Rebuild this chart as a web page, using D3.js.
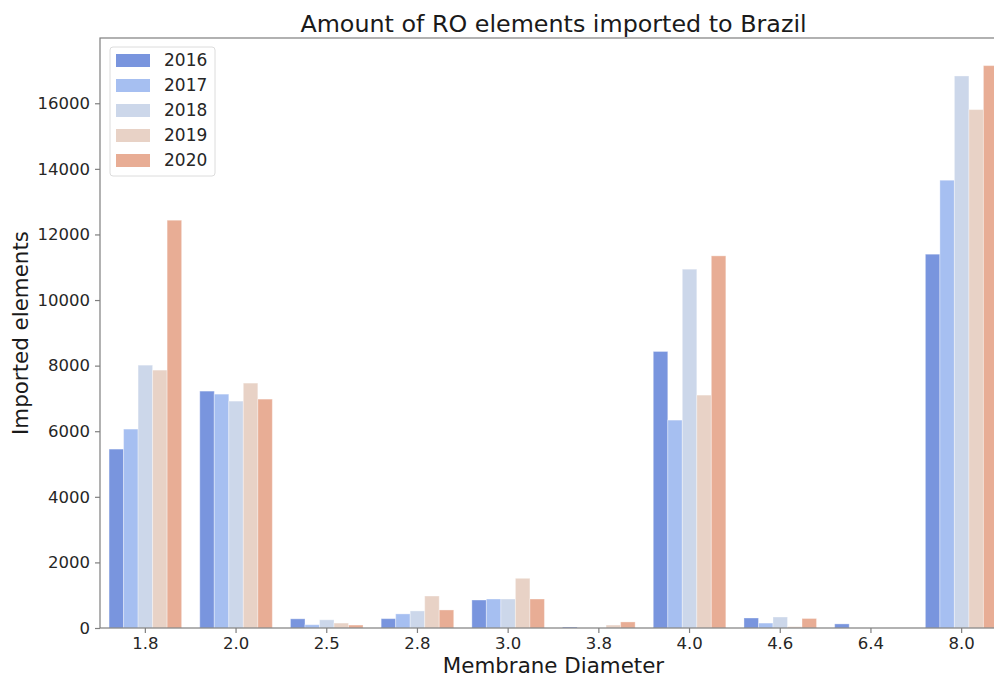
<!DOCTYPE html>
<html>
<head>
<meta charset="utf-8">
<script src="https://cdn.jsdelivr.net/npm/d3@7"></script>
<style>
  body { margin: 0; background: #fff; }
  text { font-family: "DejaVu Sans", sans-serif; }
</style>
</head>
<body>
<div id="chart"></div>
<script>
// data
var diameters = ["1.8", "2.0", "2.5", "2.8", "3.0", "3.8", "4.0", "4.6", "6.4", "8.0"];
var years = ["2016", "2017", "2018", "2019", "2020"];
var v2016 = [5455, 7223, 280, 285, 853, 30, 8432, 305, 125, 11398];
var v2017 = [6065, 7131, 100, 430, 884, 0, 6339, 150, 0, 13653];
var v2018 = [8015, 6918, 250, 520, 884, 0, 10941, 335, 0, 16832];
var v2019 = [7863, 7467, 150, 975, 1515, 90, 7101, 40, 0, 15807];
var v2020 = [12434, 6979, 90, 550, 884, 185, 11347, 290, 0, 17148];
var yTicks = [0, 2000, 4000, 6000, 8000, 10000, 12000, 14000, 16000];
var colors = ["#7995de", "#a6bff1", "#ccd7ea", "#e8d2c6", "#e8ad95"];

var series = [v2016, v2017, v2018, v2019, v2020];

var width = 994, height = 675;
// note: "top" is window.top, so use other names
var axLeft = 100, axRight = 1007, axTop = 38, axBottom = 628;

var svg = d3.select("#chart").append("svg")
  .attr("width", width)
  .attr("height", height);

var x = d3.scaleBand()
  .domain(diameters)
  .range([axLeft, axRight])
  .paddingInner(0.2)
  .paddingOuter(0.1);

var xInner = d3.scaleBand()
  .domain(years)
  .range([0, x.bandwidth()]);

var y = d3.scaleLinear()
  .domain([0, 17990])
  .range([axBottom, axTop]);

var color = d3.scaleOrdinal().domain(years).range(colors);

// bars
var groups = svg.selectAll("g.cat")
  .data(diameters)
  .enter()
  .append("g")
  .attr("class", "cat")
  .attr("transform", function(d) { return "translate(" + x(d) + ",0)"; });

groups.selectAll("rect")
  .data(function(d, i) { return years.map(function(yr, j) { return { year: yr, value: series[j][i] }; }); })
  .enter()
  .append("rect")
  .attr("x", function(d) { return xInner(d.year); })
  .attr("width", xInner.bandwidth())
  .attr("y", function(d) { return y(d.value); })
  .attr("height", function(d) { return axBottom - y(d.value); })
  .attr("fill", function(d) { return color(d.year); })
  .attr("stroke", "#ffffff")
  .attr("stroke-opacity", 0.35)
  .attr("stroke-width", 1);

// frame
svg.append("rect")
  .attr("x", axLeft)
  .attr("y", axTop)
  .attr("width", axRight - axLeft)
  .attr("height", axBottom - axTop)
  .attr("fill", "none")
  .attr("stroke", "#7f7f7f")
  .attr("stroke-width", 1.2);

// axes
var xAxis = svg.append("g")
  .attr("transform", "translate(0," + axBottom + ")")
  .call(d3.axisBottom(x).tickSize(5).tickPadding(4));
var yAxis = svg.append("g")
  .attr("transform", "translate(" + axLeft + ",0)")
  .call(d3.axisLeft(y).tickValues(yTicks).tickFormat(d3.format("d")).tickSize(5).tickPadding(5));

[xAxis, yAxis].forEach(function(a) {
  a.select(".domain").remove();
  a.selectAll(".tick line").attr("stroke", "#7f7f7f").attr("stroke-width", 1.2);
  a.selectAll(".tick text")
    .attr("fill", "#262626")
    .style("font-size", "16.5px")
    .style("font-family", "DejaVu Sans");
});

// title and axis labels
svg.append("text")
  .attr("x", (axLeft + axRight) / 2)
  .attr("y", 32)
  .attr("text-anchor", "middle")
  .attr("fill", "#1a1a1a")
  .style("font-size", "23.8px")
  .text("Amount of RO elements imported to Brazil");

svg.append("text")
  .attr("x", (axLeft + axRight) / 2)
  .attr("y", 673)
  .attr("text-anchor", "middle")
  .attr("fill", "#1a1a1a")
  .style("font-size", "21.4px")
  .text("Membrane Diameter");

svg.append("text")
  .attr("transform", "translate(28," + ((axTop + axBottom) / 2) + ") rotate(-90)")
  .attr("text-anchor", "middle")
  .attr("fill", "#1a1a1a")
  .style("font-size", "21.4px")
  .text("Imported elements");

// legend
var legend = svg.append("g").attr("transform", "translate(110,47)");
legend.append("rect")
  .attr("width", 105)
  .attr("height", 129)
  .attr("rx", 3)
  .attr("fill", "#fff")
  .attr("fill-opacity", 0.8)
  .attr("stroke", "#dcdcdc");

var items = legend.selectAll("g.item")
  .data(years)
  .enter()
  .append("g")
  .attr("class", "item")
  .attr("transform", function(d, i) { return "translate(0," + (13 + i * 25) + ")"; });

items.append("rect")
  .attr("x", 6)
  .attr("y", -6)
  .attr("width", 34)
  .attr("height", 13)
  .attr("fill", function(d) { return color(d); });

items.append("text")
  .attr("x", 54)
  .attr("y", 6)
  .attr("fill", "#262626")
  .style("font-size", "17px")
  .text(function(d) { return d; });
</script>
</body>
</html>
